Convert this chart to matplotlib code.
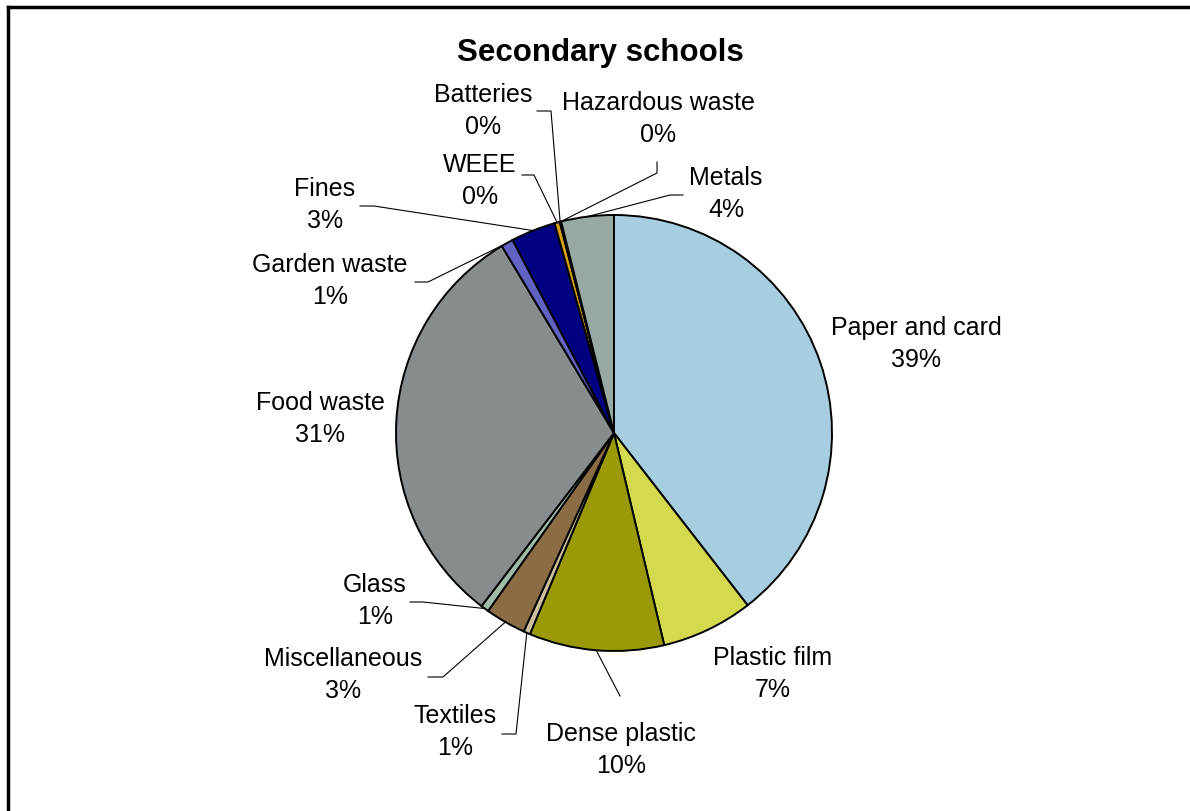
import numpy as np
import matplotlib.pyplot as plt

plt.rcParams['font.family'] = ['Liberation Sans', 'DejaVu Sans']

# data (percent of total, clockwise from 12 o'clock)
categories = ['Paper and card', 'Plastic film', 'Dense plastic', 'Textiles',
              'Miscellaneous', 'Glass', 'Food waste', 'Garden waste', 'Fines',
              'WEEE', 'Batteries', 'Hazardous waste', 'Metals']
shares = [39.5, 6.8, 10.0, 0.5, 3.0, 0.6, 31.0, 0.9, 3.3, 0.4, 0.05, 0.05, 3.9]
pct_labels = ['39%', '7%', '10%', '1%', '3%', '1%', '31%', '1%', '3%',
              '0%', '0%', '0%', '4%']
colors = ['#A6CDE0', '#D4D94E', '#999A05', '#CFC0A0', '#8B6D45', '#A0BCA8',
          '#878C8F', '#6262C4', '#000080', '#D4A017', '#C0C0C0', '#E0D0A0',
          '#96A9A2']

# layout, in pixels: label centre, and elbow of the leader line (None = no leader)
label_pos = {
    'Paper and card': (916, 344, None),
    'Plastic film': (773, 674, None),
    'Dense plastic': (621, 750, (620, 697)),
    'Textiles': (455, 732, (516, 735)),
    'Miscellaneous': (343, 675, (443, 678)),
    'Glass': (375, 601, (423, 603)),
    'Food waste': (320, 419, None),
    'Garden waste': (330, 281, (428, 283)),
    'Fines': (325, 205, (374, 207)),
    'WEEE': (480, 181, (534, 176)),
    'Batteries': (483, 111, (551, 112)),
    'Hazardous waste': (658, 119, (657, 174)),
    'Metals': (726, 194, (670, 196)),
}
# end point of the short last segment of each leader (pixels)
tail = {'Textiles': (502, 735), 'Miscellaneous': (428, 678), 'Glass': (410, 603),
        'Garden waste': (415, 283), 'Fines': (360, 207), 'WEEE': (522, 176),
        'Batteries': (537, 112), 'Hazardous waste': (657, 163),
        'Metals': (683, 196)}

W, H = 1190, 812
cx, cy, R = 614, 434, 218

fig = plt.figure(figsize=(W / 100, H / 100), dpi=100)
ax = fig.add_axes([0, 0, 1, 1])


def to_data(px, py):
    return (px - cx) / R, (cy - py) / R


wedges, _ = ax.pie(shares, colors=colors, startangle=90, counterclock=False,
                   radius=1, center=(0, 0), frame=True,
                   wedgeprops=dict(edgecolor='black', linewidth=1.4))
ax.set_xlim(-cx / R, (W - cx) / R)
ax.set_ylim(-(H - cy) / R, cy / R)
ax.set_aspect('equal')
ax.axis('off')

for w, name, pct in zip(wedges, categories, pct_labels):
    lx, ly, elbow = label_pos[name]
    tx, ty = to_data(lx, ly)
    ax.text(tx, ty, name + '\n' + pct, ha='center', va='center',
            fontsize=18, linespacing=1.45)
    if elbow is not None:
        mid = np.deg2rad((w.theta1 + w.theta2) / 2)
        ex, ey = to_data(*elbow)
        xs = [np.cos(mid), ex]
        ys = [np.sin(mid), ey]
        if name in tail:
            t2x, t2y = to_data(*tail[name])
            xs.append(t2x)
            ys.append(t2y)
        ax.plot(xs, ys, color='black', linewidth=0.8)

fig.text(600 / W, 1 - 53 / H, 'Secondary schools', ha='center', va='center',
         fontsize=22.5, fontweight='bold')

# chart frame (only top and left edges are in view)
fig.add_artist(plt.Line2D([8 / W, 1], [1 - 8 / H, 1 - 8 / H], color='black',
                          linewidth=2.5, transform=fig.transFigure))
fig.add_artist(plt.Line2D([8 / W, 8 / W], [0, 1 - 8 / H], color='black',
                          linewidth=2.5, transform=fig.transFigure))

fig.savefig('out.png', dpi=100, facecolor='white')
